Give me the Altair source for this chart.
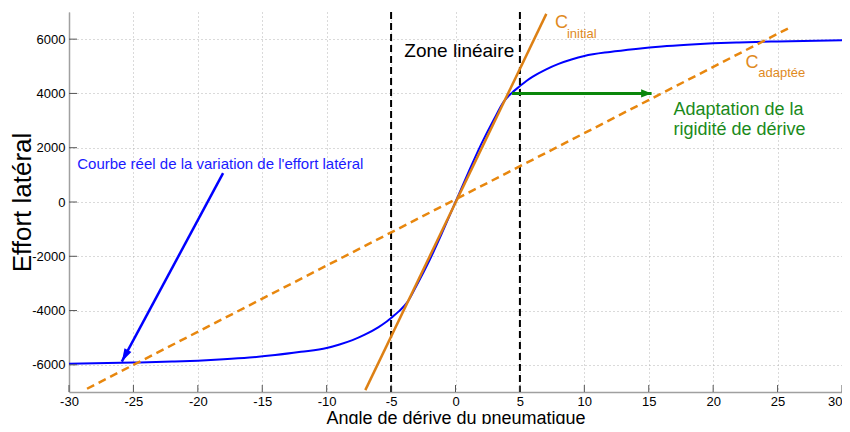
import altair as alt
import pandas as pd

# ---------------- data ----------------
x_ticks = [-30, -25, -20, -15, -10, -5, 0, 5, 10, 15, 20, 25, 30]
y_ticks = [-6000, -4000, -2000, 0, 2000, 4000, 6000]

curve_x = [-30, -25, -22, -20, -18, -16, -14, -12, -10, -9, -8, -7, -6, -5.5, -5, -4.4, -3.75, -3, -2, -1,
           0, 1, 2, 3, 3.75, 4.4, 5, 5.5, 6, 7, 8, 9, 10, 12, 14, 16, 18, 20, 22, 25, 30]
curve_y = [-5960, -5915, -5880, -5845, -5795, -5730, -5640, -5520, -5380, -5250, -5090, -4880, -4620, -4460,
           -4270, -4030, -3700, -3060, -2130, -1090,
           0, 1090, 2130, 3060, 3700, 4030, 4270, 4460, 4620, 4880, 5090, 5250, 5380, 5530, 5640, 5730,
           5795, 5845, 5880, 5915, 5960]

c_init_x = [-7.0, 7.05]
c_init_y = [-6930, 6930]

c_adapt_x = [-28.6, 26.0]
c_adapt_y = [-6880, 6440]

zone_x = [-5, 5]

blue_arrow_x = [-18.04, -25.9]
blue_arrow_y = [1063, -5879]
green_arrow_x = [4.39, 15.22]
green_arrow_y = [4000, 4000]

W, H = 773, 380
SANS = "Liberation Sans, Arial, sans-serif"

xs = alt.Scale(domain=[-30, 30], nice=False, zero=False)
ys = alt.Scale(domain=[-7000, 7000], nice=False, zero=False)

x_axis = alt.Axis(values=x_ticks, grid=True, gridDash=[1, 3], gridColor="#b4b4b4", gridWidth=1,
                  ticks=False, labelFont=SANS, labelFontSize=13, labelPadding=3, labelColor="#000",
                  labelExpr="'' + datum.value", domainColor="#a0a0a0", domainWidth=1.5,
                  labelAlign=alt.condition("datum.value == 30", alt.value("right"), alt.value("center")),
                  title="Angle de dérive du pneumatique", titleFont=SANS, titleFontSize=18,
                  titleFontWeight="normal", titleColor="#000", titleX=W / 2, titleY=31,
                  titleAlign="center", titleBaseline="alphabetic")
y_axis = alt.Axis(values=y_ticks, grid=True, gridDash=[1, 3], gridColor="#b4b4b4", gridWidth=1,
                  ticks=False, labelFont=SANS, labelFontSize=13, labelPadding=4, labelColor="#000",
                  labelExpr="'' + datum.value", domainColor="#a0a0a0", domainWidth=1.5,
                  title="Effort latéral", titleFont=SANS, titleFontSize=26,
                  titleFontWeight="normal", titleColor="#000", titleX=-47, titleY=H / 2,
                  titleAlign="center", titleBaseline="middle", titleAngle=270)

curve_df = pd.DataFrame({"x": curve_x, "y": curve_y})
base = alt.Chart(curve_df).mark_line(color="#0000ff", strokeWidth=2, interpolate="monotone").encode(
    x=alt.X("x:Q", scale=xs, axis=x_axis),
    y=alt.Y("y:Q", scale=ys, axis=y_axis),
)

zone_df = pd.DataFrame({"x": zone_x})
zone = alt.Chart(zone_df).mark_rule(color="#000000", strokeWidth=2, strokeDash=[7, 4]).encode(
    x=alt.X("x:Q", scale=xs), y=alt.value(0), y2=alt.value(H))

adapt = alt.Chart(pd.DataFrame({"x": c_adapt_x, "y": c_adapt_y})).mark_line(
    color="#e8870e", strokeWidth=2.5, strokeDash=[8, 5]).encode(
    x=alt.X("x:Q", scale=xs), y=alt.Y("y:Q", scale=ys))

init = alt.Chart(pd.DataFrame({"x": c_init_x, "y": c_init_y})).mark_line(
    color="#dd8014", strokeWidth=2.5).encode(
    x=alt.X("x:Q", scale=xs), y=alt.Y("y:Q", scale=ys))

# tick marks drawn inward
xt = alt.Chart(pd.DataFrame({"x": x_ticks})).mark_rule(color="#555555", strokeWidth=1).encode(
    x=alt.X("x:Q", scale=xs), y=alt.value(H), y2=alt.value(H - 7))
yt = alt.Chart(pd.DataFrame({"y": y_ticks})).mark_rule(color="#555555", strokeWidth=1).encode(
    y=alt.Y("y:Q", scale=ys), x=alt.value(0), x2=alt.value(8))

HEAD = "M0,0 L-0.6,2 L0.6,2 Z"

barrow = alt.Chart(pd.DataFrame({"x": blue_arrow_x, "y": blue_arrow_y})).mark_line(
    color="#0000ff", strokeWidth=2.5).encode(x=alt.X("x:Q", scale=xs), y=alt.Y("y:Q", scale=ys))
bhead = alt.Chart(pd.DataFrame({"x": blue_arrow_x[1:], "y": blue_arrow_y[1:]})).mark_point(
    shape=HEAD, filled=True, color="#0000ff", size=170, opacity=1, angle=208).encode(
    x=alt.X("x:Q", scale=xs), y=alt.Y("y:Q", scale=ys))

garrow = alt.Chart(pd.DataFrame({"x": green_arrow_x, "y": green_arrow_y})).mark_line(
    color="#0a870a", strokeWidth=3).encode(x=alt.X("x:Q", scale=xs), y=alt.Y("y:Q", scale=ys))
ghead = alt.Chart(pd.DataFrame({"x": green_arrow_x[1:], "y": green_arrow_y[1:]})).mark_point(
    shape="M0,0 L-0.8,2 L0.8,2 Z", filled=True, color="#0a870a", size=110, opacity=1, angle=90).encode(
    x=alt.X("x:Q", scale=xs), y=alt.Y("y:Q", scale=ys))


def label(texts, xs_, ys_, color, size):
    df = pd.DataFrame({"t": texts, "x": xs_, "y": ys_})
    return alt.Chart(df).mark_text(align="left", baseline="alphabetic", font=SANS,
                                   fontSize=size, color=color).encode(
        x=alt.X("x:Q", scale=xs), y=alt.Y("y:Q", scale=ys), text="t:N")


t_zone = label(["Zone linéaire"], [-3.97], [5336], "#000000", 19)
t_c1 = label(["C"], [7.72], [6407], "#e08a1e", 18)
t_c1s = label(["initial"], [8.65], [6038], "#e08a1e", 13)
t_c2 = label(["C"], [22.5], [4930], "#e08a1e", 18)
t_c2s = label(["adaptée"], [23.5], [4590], "#e08a1e", 13)
t_green = label(["Adaptation de la", "rigidité de dérive"], [16.92, 16.92], [3205, 2456], "#1a8a1a", 18)
t_blue = label(["Courbe réel de la variation de l'effort latéral"], [-29.36], [1219], "#1a1aff", 15)

chart = alt.layer(base, zone, adapt, init, xt, yt, barrow, bhead, garrow, ghead,
                  t_zone, t_c1, t_c1s, t_c2, t_c2s, t_green, t_blue).properties(
    width=W, height=H,
    autosize=alt.AutoSizeParams(type="none"),
    padding={"left": 61, "top": 4, "right": 0, "bottom": 32},
    background="#ffffff",
).configure_view(strokeWidth=0)

chart.save("out.html", embed_options={"renderer": "svg", "actions": False})
